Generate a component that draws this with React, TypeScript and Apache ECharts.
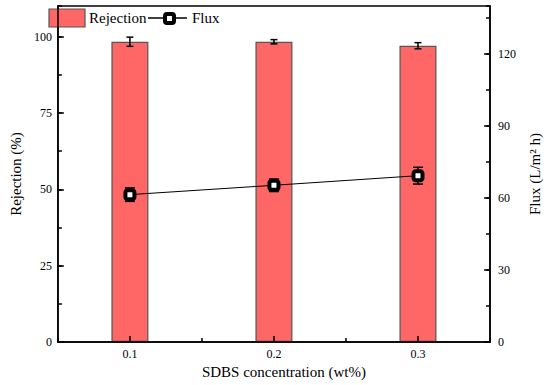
import React, { useEffect, useRef } from "react";
import * as echarts from "echarts";

const categories = ["0.1", "0.2", "0.3"];
const rejection = [98.3, 98.3, 97.0];
const rejectionErr = [1.5, 0.7, 1.0];
const flux = [61.4, 65.3, 69.3];
const fluxErr = [2.8, 2.6, 3.5];

const FONT = "Liberation Serif";

export default function App() {
  const ref = useRef<HTMLDivElement>(null);
  useEffect(() => {
    if (!ref.current) return;
    const chart = echarts.init(ref.current, null, { renderer: "svg" });

    const errRender = (capHalf: number) => (params: any, api: any) => {
      const x = api.value(0);
      const y = api.value(1);
      const e = api.value(2);
      const top = api.coord([x, y + e]);
      const bot = api.coord([x, y - e]);
      const st = { stroke: "#000", lineWidth: 1.5 };
      return {
        type: "group",
        children: [
          { type: "line", shape: { x1: top[0], y1: top[1], x2: bot[0], y2: bot[1] }, style: st },
          { type: "line", shape: { x1: top[0] - capHalf, y1: top[1], x2: top[0] + capHalf, y2: top[1] }, style: st },
          { type: "line", shape: { x1: bot[0] - capHalf, y1: bot[1], x2: bot[0] + capHalf, y2: bot[1] }, style: st },
        ],
      };
    };

    const axisLine = { show: true, lineStyle: { color: "#000", width: 1.5 } };
    const labelStyle = { color: "#000", fontFamily: FONT, fontSize: 12 };
    const nameStyle = { color: "#000", fontFamily: FONT, fontSize: 15 };

    chart.setOption({
      animation: false,
      textStyle: { fontFamily: FONT },
      grid: {
        left: 43,
        right: 56,
        top: 6,
        bottom: 43,
        show: true,
        borderColor: "#000",
        borderWidth: 1.5,
        backgroundColor: "transparent",
      },
      xAxis: [
        {
          type: "category",
          data: categories,
          z: 10,
          axisLine,
          axisTick: { show: true, inside: true, alignWithLabel: true, length: 6, lineStyle: { color: "#000", width: 1.5 } },
          axisLabel: { ...labelStyle, margin: 6 },
          name: "SDBS concentration (wt%)",
          nameLocation: "middle",
          nameGap: 22,
          nameTextStyle: { ...nameStyle, padding: [0, 0, 0, 20] },
        },
        {
          type: "category",
          data: categories,
          position: "bottom",
          z: 10,
          axisLine: { show: false },
          axisTick: { show: true, inside: true, length: 4, lineStyle: { color: "#000", width: 1.5 } },
          axisLabel: { show: false },
        },
      ],
      yAxis: [
        {
          type: "value",
          min: 0,
          max: 110,
          interval: 25,
          position: "left",
          z: 10,
          axisLine,
          splitLine: { show: false },
          axisTick: { show: true, inside: true, length: 6, lineStyle: { color: "#000", width: 1.5 } },
          axisLabel: { ...labelStyle, margin: 6, showMaxLabel: false },
          name: "Rejection (%)",
          nameLocation: "middle",
          nameRotate: 90,
          nameGap: 26,
          nameTextStyle: nameStyle,
        },
        {
          type: "value",
          min: 0,
          max: 140,
          interval: 30,
          position: "right",
          z: 10,
          axisLine,
          splitLine: { show: false },
          axisTick: { show: true, inside: true, length: 6, lineStyle: { color: "#000", width: 1.5 } },
          axisLabel: { ...labelStyle, margin: 8, showMaxLabel: false },
          name: "Flux (L/m² h)",
          nameLocation: "middle",
          nameRotate: 90,
          nameGap: 37,
          nameTextStyle: nameStyle,
        },
        {
          type: "value",
          min: 0,
          max: 110,
          interval: 12.5,
          position: "left",
          z: 10,
          axisLine: { show: false },
          splitLine: { show: false },
          axisTick: { show: true, inside: true, length: 4, lineStyle: { color: "#000", width: 1.5 } },
          axisLabel: { show: false },
        },
        {
          type: "value",
          min: 0,
          max: 140,
          interval: 15,
          position: "right",
          z: 10,
          axisLine: { show: false },
          splitLine: { show: false },
          axisTick: { show: true, inside: true, length: 4, lineStyle: { color: "#000", width: 1.5 } },
          axisLabel: { show: false },
        },
      ],
      series: [
        {
          name: "Rejection",
          type: "bar",
          xAxisIndex: 0,
          yAxisIndex: 0,
          data: rejection,
          barWidth: 37,
          itemStyle: { color: "#FF6666", borderColor: "#555", borderWidth: 1.2 },
          z: 2,
        },
        {
          type: "custom",
          xAxisIndex: 0,
          yAxisIndex: 0,
          renderItem: errRender(3.5),
          data: rejection.map((v, i) => [i, v, rejectionErr[i]]),
          z: 3,
        },
        {
          type: "custom",
          xAxisIndex: 0,
          yAxisIndex: 1,
          renderItem: errRender(5),
          data: flux.map((v, i) => [i, v, fluxErr[i]]),
          z: 4,
        },
        {
          name: "Flux",
          type: "line",
          xAxisIndex: 0,
          yAxisIndex: 1,
          data: flux,
          symbol: "roundRect",
          symbolSize: 9,
          lineStyle: { color: "#000", width: 1 },
          itemStyle: { color: "#fff", borderColor: "#000", borderWidth: 4 },
          z: 5,
        },
      ],
      graphic: [
        {
          type: "rect",
          shape: { x: 49, y: 9, width: 36, height: 18 },
          style: { fill: "#FF6666", stroke: "#555", lineWidth: 1.2 },
        },
        {
          type: "text",
          x: 89,
          y: 18,
          style: { text: "Rejection", fill: "#000", font: "15px Liberation Serif", verticalAlign: "middle" },
        },
        {
          type: "line",
          shape: { x1: 148, y1: 18, x2: 187, y2: 18 },
          style: { stroke: "#000", lineWidth: 1.5 },
        },
        {
          type: "rect",
          shape: { x: 165, y: 14, width: 9, height: 9, r: 2 },
          style: { fill: "#fff", stroke: "#000", lineWidth: 4 },
        },
        {
          type: "text",
          x: 192,
          y: 18,
          style: { text: "Flux", fill: "#000", font: "15px Liberation Serif", verticalAlign: "middle" },
        },
      ],
    });
    return () => chart.dispose();
  }, []);
  return (
    <div
      ref={ref}
      style={{ position: "fixed", left: 0, top: 0, width: 550, height: 385, background: "#fff" }}
    />
  );
}
